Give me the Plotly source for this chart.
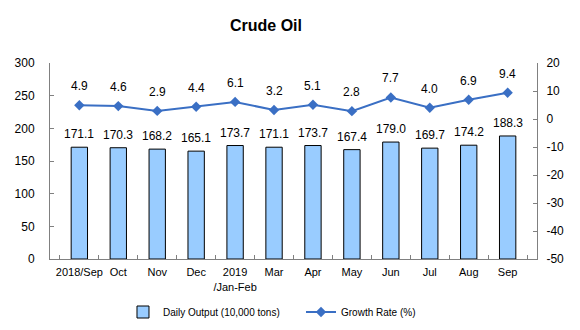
import plotly.graph_objects as go

months = ["2018/Sep", "Oct", "Nov", "Dec", "2019<br>/Jan-Feb", "Mar", "Apr",
          "May", "Jun", "Jul", "Aug", "Sep"]
daily_output = [171.1, 170.3, 168.2, 165.1, 173.7, 171.1, 173.7, 167.4, 179.0, 169.7, 174.2, 188.3]
growth_rate = [4.9, 4.6, 2.9, 4.4, 6.1, 3.2, 5.1, 2.8, 7.7, 4.0, 6.9, 9.4]
left_ticks = [0, 50, 100, 150, 200, 250, 300]
right_ticks = [-50, -40, -30, -20, -10, 0, 10, 20]

FONT = "Liberation Sans, Arial, sans-serif"
LINE_COLOR = "#3A6FC4"

fig = go.Figure()
fig.add_trace(go.Bar(
    x=months, y=daily_output, name="Daily Output (10,000 tons)",
    marker=dict(color="#99CCFF", line=dict(color="black", width=1)),
    width=0.42,
))
fig.add_trace(go.Scatter(
    x=months, y=growth_rate, name="Growth Rate (%)", yaxis="y2",
    mode="lines+markers",
    line=dict(color=LINE_COLOR, width=2),
    marker=dict(symbol="diamond", size=8, color=LINE_COLOR),
))

annotations = []
for m, v in zip(months, daily_output):
    annotations.append(dict(x=m, y=v, xref="x", yref="y", text=f"{v:.1f}",
                            showarrow=False, yanchor="bottom", yshift=4,
                            font=dict(size=12, color="black", family=FONT)))
for m, v in zip(months, growth_rate):
    annotations.append(dict(x=m, y=v, xref="x", yref="y2", text=f"{v:.1f}",
                            showarrow=False, yanchor="bottom", yshift=10,
                            font=dict(size=12, color="black", family=FONT)))

fig.update_layout(
    width=580, height=330,
    margin=dict(l=50, r=43, t=63, b=71, autoexpand=False),
    paper_bgcolor="white", plot_bgcolor="white",
    font=dict(family=FONT, color="black"),
    title=dict(text="<b>Crude Oil</b>", x=266 / 580, xanchor="center",
               y=1 - 25 / 330, yanchor="middle",
               font=dict(size=16, family=FONT, color="black")),
    showlegend=True,
    legend=dict(orientation="h", x=0.5154, xanchor="center",
                yref="container", y=(330 - 312) / 330, yanchor="middle",
                font=dict(size=10, family=FONT), itemwidth=30,
                tracegroupgap=0, entrywidthmode="pixels", entrywidth=133),
    annotations=annotations,
    xaxis=dict(type="category", showline=True, linecolor="#808080", linewidth=1,
               ticks="inside", tickson="boundaries", ticklen=4, tickcolor="#808080",
               tickangle=0, automargin=False, ticklabelstandoff=3,
               tickfont=dict(size=11, family=FONT), showgrid=False, mirror=False),
    yaxis=dict(range=[0, 300], tickvals=left_ticks,
               ticktext=[str(t) for t in left_ticks],
               showline=True, linecolor="#808080", automargin=False,
               ticks="inside", ticklen=4, tickcolor="#808080", showgrid=False,
               ticklabelstandoff=12,
               tickfont=dict(size=12, family=FONT), zeroline=False),
    yaxis2=dict(range=[-50, 20], tickvals=right_ticks,
                ticktext=[str(t) for t in right_ticks],
                overlaying="y", side="right", automargin=False,
                showline=True, linecolor="#808080", ticks="inside", ticklen=4,
                tickcolor="#808080", showgrid=False, zeroline=False,
                ticklabelstandoff=6,
                tickfont=dict(size=12, family=FONT)),
    bargap=0.58,
)

fig.write_html("out.html")
